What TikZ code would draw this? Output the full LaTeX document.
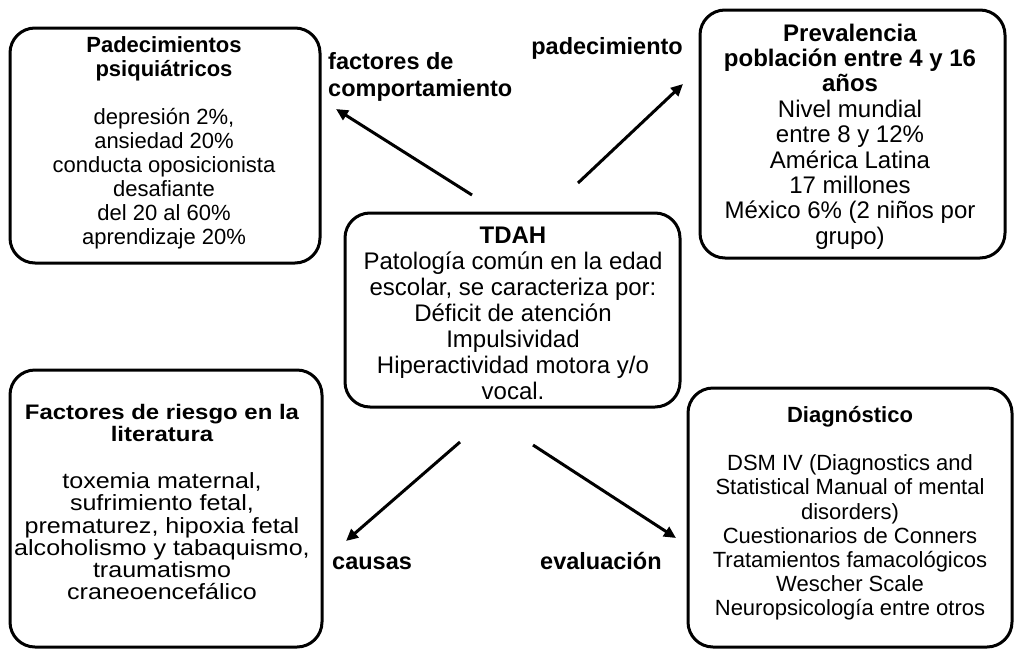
\documentclass[tikz,border=0pt]{standalone}
\usepackage{fontspec}
\setmainfont{Liberation Sans}
\newfontfamily\widefont{Liberation Sans}[FakeStretch=1.14]
\usetikzlibrary{arrows.meta}
\begin{document}
\begin{tikzpicture}[x=1pt,y=-1pt,
  box/.style={draw=black, line width=3pt, rounded corners=25pt, inner sep=0pt},
  txt/.style={align=center, inner sep=0pt, font=\fontsize{22}{24}\selectfont},
  lbl/.style={inner sep=0pt, align=left, font=\bfseries\fontsize{23.5}{27}\selectfont},
  arr/.style={line width=3pt, -{Triangle[length=12pt,width=11pt]}}]
\useasboundingbox (0,0) rectangle (1014,648);
\fill[white] (0,0) rectangle (1014,648);

% boxes
\node[box, minimum width=310pt, minimum height=235pt] (b1) at (165,145.5) {};
\node[box, minimum width=305pt, minimum height=248pt] (b2) at (852.5,134) {};
\node[box, minimum width=335pt, minimum height=194pt] (b0) at (512.5,310) {};
\node[box, minimum width=312pt, minimum height=277pt] (b3) at (166,508.5) {};
\node[box, minimum width=324pt, minimum height=259pt] (b4) at (850,517.5) {};

% texts
\node[txt] (t1) at (164,142.5) {\textbf{Padecimientos}\\\textbf{psiquiátricos}\\[24pt]depresión 2\%,\\ansiedad 20\%\\conducta oposicionista\\desafiante\\del 20 al 60\%\\aprendizaje 20\%};
\node[txt, font=\fontsize{24}{25.4}\selectfont] (t2) at (850,136.5) {\textbf{Prevalencia}\\\textbf{población entre 4 y 16}\\\textbf{años}\\Nivel mundial\\entre 8 y 12\%\\América Latina\\17 millones\\México 6\% (2 niños por\\grupo)};
\node[txt, font=\fontsize{24}{26}\selectfont] (t0) at (513,313.5) {\textbf{TDAH}\\Patología común en la edad\\escolar, se caracteriza por:\\Déficit de atención\\Impulsividad\\Hiperactividad motora y/o\\vocal.};
\node[txt, font=\widefont\fontsize{22}{22.3}\selectfont] (t3) at (162,502) {{\fontsize{21}{21}\selectfont\bfseries Factores de riesgo en la}\\{\fontsize{21}{21}\selectfont\bfseries literatura}\\[24.7pt]toxemia maternal,\\sufrimiento fetal,\\prematurez, hipoxia fetal\\alcoholismo y tabaquismo,\\traumatismo\\craneoencefálico};
\node[txt, font=\fontsize{22}{24.2}\selectfont] (t4) at (850,513.5) {\textbf{Diagnóstico}\\[24pt]DSM IV (Diagnostics and\\Statistical Manual of mental\\disorders)\\Cuestionarios de Conners\\Tratamientos famacológicos\\Wescher Scale\\Neuropsicología entre otros};

% labels
\node[lbl, anchor=west] (l1) at (328,76.5) {factores de\\comportamiento};
\node[lbl, anchor=east] (l2) at (683,48) {padecimiento};
\node[lbl, anchor=west] (l3) at (332,563) {causas};
\node[lbl, anchor=west] (l4) at (540,560.5) {evaluación};

% arrows
\coordinate (a1s) at (472,195); \coordinate (a1e) at (336,109);
\coordinate (a2s) at (578,183); \coordinate (a2e) at (683,84);
\coordinate (a3s) at (460,442); \coordinate (a3e) at (346,541);
\coordinate (a4s) at (533,445); \coordinate (a4e) at (676,538);
\draw[arr] (a1s) -- (a1e);
\draw[arr] (a2s) -- (a2e);
\draw[arr] (a3s) -- (a3e);
\draw[arr] (a4s) -- (a4e);
\end{tikzpicture}
\end{document}
